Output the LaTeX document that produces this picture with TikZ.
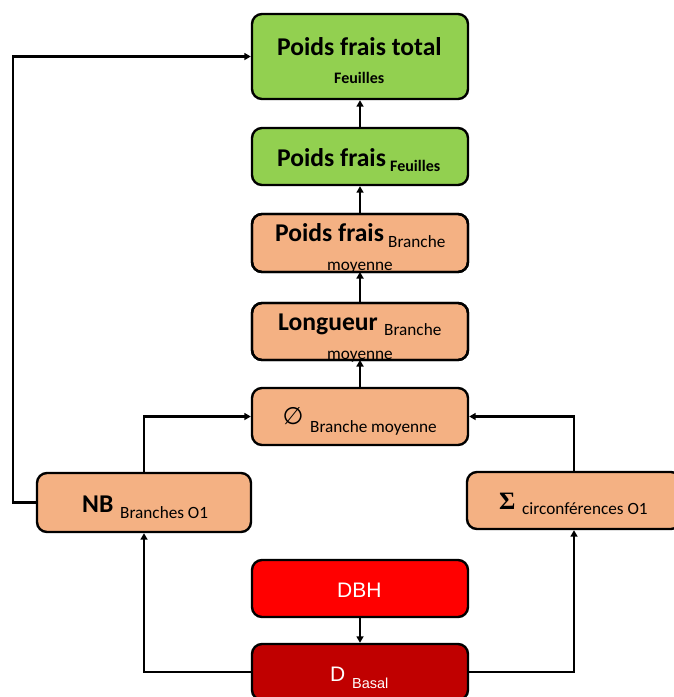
\documentclass[tikz,border=0pt]{standalone}
\usepackage{fontspec}
\setmainfont{Carlito}
\newfontfamily\arialf{Liberation Sans}
\newfontfamily\dejavuf{DejaVu Sans}
\newfontfamily\seriff{Liberation Serif}
\usetikzlibrary{arrows.meta}
\definecolor{gr}{HTML}{92D050}
\definecolor{pe}{HTML}{F4B183}
\definecolor{rd}{HTML}{FF0000}
\definecolor{drd}{HTML}{C00000}
\begin{document}
\begin{tikzpicture}[x=1pt,y=-1pt,
  box/.style={draw=black, line width=2.4pt, rounded corners=10pt, minimum width=216pt, inner sep=0pt},
  edge/.style={draw=black, line width=2.4pt, rounded corners=10pt},
  conn/.style={line width=2.2pt, -{Triangle[length=6.5pt,width=7pt]}},
  big/.style={font=\bfseries\fontsize{25.6}{25.6}\selectfont, inner sep=0pt, anchor=base west},
  subb/.style={font=\bfseries\fontsize{16}{16}\selectfont, inner sep=0pt, anchor=base west},
  sub/.style={font=\fontsize{17.2}{17.2}\selectfont, inner sep=0pt, anchor=base west},
  wbig/.style={font=\arialf\fontsize{21}{21}\selectfont, text=white, inner sep=0pt, anchor=base west},
  wsub/.style={font=\arialf\fontsize{14.5}{14.5}\selectfont, text=white, inner sep=0pt, anchor=base west}]
\useasboundingbox (0,0) rectangle (673,697);

% boxes
\node[box, fill=gr, minimum height=85pt] (ptotal) at (360,56.5) {};
\node[box, fill=gr, minimum height=57pt] (pfeuil) at (360,156.5) {};
\node[box, fill=pe, minimum height=58pt, outer sep=0pt] (pbranche) at (360,243) {};
\node[box, fill=pe, minimum height=57pt, outer sep=0pt] (longueur) at (360,331.5) {};
\node[box, fill=pe, minimum height=57pt] (diam) at (360,416.5) {};
\node[box, fill=pe, minimum height=59pt, minimum width=214pt] (nb) at (144,502.5) {};
\node[box, fill=pe, minimum height=57pt, minimum width=214pt] (sigma) at (574,500.5) {};
\node[box, fill=rd, minimum height=57pt] (dbh) at (360,588.5) {};
\node[box, fill=drd, minimum height=56pt] (dbasal) at (360,672) {};

% texts
\node[big] (t1) at (277,55) {Poids frais total};
\node[subb] (t1s) at (334,83) {Feuilles};
\node[big] (t2) at (277,166) {Poids frais};
\node[subb] (t2s) at (390,171) {Feuilles};
\node[big] (t3) at (275,241) {Poids frais};
\node[sub] (t3s) at (388,247) {Branche};
\node[sub] (t3m) at (327,270) {moyenne};
\node[big] (t4) at (278,330) {Longueur};
\node[sub] (t4s) at (384,335) {Branche};
\node[sub] (t4m) at (327,359) {moyenne};
\node[font=\dejavuf\fontsize{24}{24}\selectfont, inner sep=0pt] (t5) at (293,416) {∅};
\node[sub] (t5s) at (310,432) {Branche moyenne};
\node[big] (t6) at (82,512) {NB};
\node[sub] (t6s) at (120,518) {Branches O1};
\node[font=\seriff\bfseries\fontsize{25}{25}\selectfont, inner sep=0pt, anchor=base west] (t7) at (499,509) {Σ};
\node[sub] (t7s) at (522,514) {circonférences O1};
\node[wbig] (t8) at (337,597) {DBH};
\node[wbig] (t9) at (330,681) {D};
\node[wsub] (t9s) at (352,688) {Basal};

% borders redrawn over overflowing text
\draw[edge] (pbranche.south west) rectangle (pbranche.north east);
\draw[edge] (longueur.south west) rectangle (longueur.north east);

% connectors
\draw[conn] (pfeuil.north) -- (ptotal.south);
\draw[conn] (pbranche.north) -- (pfeuil.south);
\draw[conn] (longueur.north) -- (pbranche.south);
\draw[conn] (diam.north) -- (longueur.south);
\draw[conn] (nb.west) -- ++(-23,0) |- (ptotal.west);
\draw[conn] (nb.north) |- (diam.west);
\draw[conn] (sigma.north) |- (diam.east);
\draw[conn] (dbh.south) -- (dbasal.north);
\draw[conn] (dbasal.west) -| (nb.south);
\draw[conn] (dbasal.east) -| (sigma.south);
\end{tikzpicture}
\end{document}
